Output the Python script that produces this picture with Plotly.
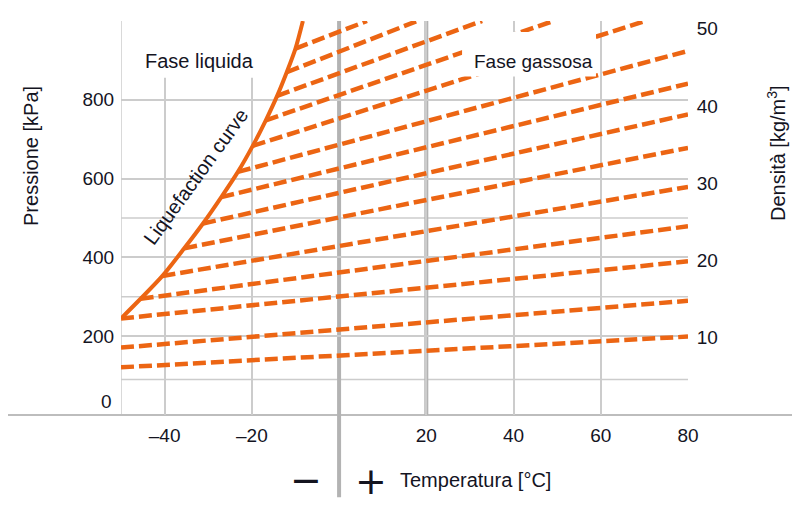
import plotly.graph_objects as go

# ---- data ----
curve_T = [-50, -45.5, -40.5, -35.5, -31.2, -27.0, -23.2, -19.8, -16.8, -14.2, -12.0, -10.0, -8.3]
curve_P = [245, 295, 353, 423, 486, 553, 617, 683, 748, 810, 870, 930, 1000]

iso_start_T = [-50, -50, -50, -45.5, -40.5, -35.5, -31.2, -27.0, -23.2, -19.8, -16.8, -14.2, -12.0, -10.0]
iso_start_P = [121, 171, 245, 295, 353, 423, 486, 553, 617, 683, 748, 810, 870, 930]
iso_end_T = [80, 80, 80, 80, 80, 80, 80, 80, 80, 70.2, 49.1, 32.8, 17.9, 6.4]
iso_end_P = [199, 290, 390, 479, 579, 678, 763, 841, 924, 1000, 1000, 1000, 1000, 1000]

x_tickvals = [-40, -20, 20, 40, 60, 80]
x_ticktext = ["–40", "–20", "20", "40", "60", "80"]
x_extra_grid = [-50]
y_tickvals = [200, 400, 600, 800]
y_ticktext = ["200", "400", "600", "800"]
y_extra_grid = [90, 300, 500]
y2_tickvals = [10, 20, 30, 40, 50]
y2_ticktext = ["10", "20", "30", "40", "50"]

ORANGE = "#EC6513"
TXT = "#14141f"
GRID = "#cccccc"
FONT = "Liberation Sans, Arial, sans-serif"

# page has an 8px body margin: figure is drawn at (8, 8)
OFF = 8
W, H = 792, 497
L, T = 121 - OFF, 18 - OFF
PW, PH = 567, 397
R = W - L - PW
B = H - T - PH


def px2paper_x(px):
    return (px - OFF - L) / PW


def px2paper_y(py):
    return (OFF + T + PH - py) / PH


fig = go.Figure()

for i in range(len(iso_start_T)):
    fig.add_trace(go.Scatter(
        x=[iso_start_T[i], iso_end_T[i]], y=[iso_start_P[i], iso_end_P[i]],
        mode="lines", line=dict(color=ORANGE, width=4.5, dash="13px,5px"),
        showlegend=False, hoverinfo="skip"))

fig.add_trace(go.Scatter(
    x=curve_T, y=curve_P, mode="lines",
    line=dict(color=ORANGE, width=4, shape="spline", smoothing=0.8),
    showlegend=False, hoverinfo="skip"))

# invisible trace for right axis
fig.add_trace(go.Scatter(x=[0], y=[0], yaxis="y2", mode="markers",
                         marker=dict(opacity=0), showlegend=False, hoverinfo="skip"))

shapes = []
for xv in x_extra_grid:
    shapes.append(dict(type="line", xref="x", yref="paper", x0=xv, x1=xv, y0=0, y1=1,
                       line=dict(color=GRID, width=1.5), layer="below"))
for yv in y_extra_grid:
    shapes.append(dict(type="line", xref="paper", yref="y", x0=0, x1=1, y0=yv, y1=yv,
                       line=dict(color=GRID, width=1.5), layer="below"))
shapes += [
    dict(type="line", xref="paper", yref="paper", x0=px2paper_x(8), x1=px2paper_x(806),
         y0=0, y1=0, line=dict(color="#bdbdbd", width=2), layer="below"),
    dict(type="line", xref="x", yref="paper", x0=0, x1=0, y0=px2paper_y(498), y1=1,
         line=dict(color="#b3b3b3", width=4), layer="below"),
    dict(type="line", xref="x", yref="paper", x0=20, x1=20, y0=0, y1=1,
         line=dict(color="#b3b3b3", width=4), layer="below"),
    dict(type="rect", xref="x", yref="y", x0=-48.4, x1=-17.7, y0=856, y1=1000,
         fillcolor="white", line=dict(width=0), layer="above"),
    dict(type="rect", xref="x", yref="y", x0=28.2, x1=58.9, y0=859, y1=972,
         fillcolor="white", line=dict(width=0), layer="above"),
]


def paper_text(text, px, py, size, angle=0, family=FONT, xanchor="center"):
    return dict(text=text, x=px2paper_x(px), y=px2paper_y(py), xref="paper", yref="paper",
                xanchor=xanchor, yanchor="middle", textangle=angle, showarrow=False,
                font=dict(size=size, color=TXT, family=family))


ann = [
    dict(text="Fase liquida", x=-31.9, y=898, xref="x", yref="y", showarrow=False,
         xanchor="center", yanchor="middle", font=dict(size=20, color=TXT, family=FONT)),
    dict(text="Fase gassosa", x=44.5, y=898, xref="x", yref="y", showarrow=False,
         xanchor="center", yanchor="middle", font=dict(size=19, color=TXT, family=FONT)),
    dict(text="Liquefaction curve", x=-32.9, y=604, xref="x", yref="y", showarrow=False,
         xanchor="center", yanchor="middle", textangle=-54,
         font=dict(size=20, color=TXT, family=FONT)),
    paper_text("0", 106, 401, 19),
    paper_text("Pressione [kPa]", 31, 154, 20, angle=-90),
    paper_text("Densità [kg/m<sup>3</sup>]", 777, 151, 20, angle=-90),
    paper_text("Temperatura [°C]", 398, 480, 20, xanchor="left"),
    paper_text("−", 306, 480, 38, family="DejaVu Sans"),
    paper_text("+", 371, 481, 38, family="DejaVu Sans"),
]

tick_font = dict(size=19, color=TXT, family=FONT)
fig.update_layout(
    width=W, height=H, margin=dict(l=L, r=R, t=T, b=B, pad=0),
    paper_bgcolor="white", plot_bgcolor="white",
    font=dict(family=FONT, color=TXT, size=19),
    xaxis=dict(range=[-50, 80], tickmode="array", tickvals=x_tickvals, ticktext=x_ticktext,
               showgrid=True, gridcolor=GRID, gridwidth=1.5, zeroline=False,
               showline=False, ticks="outside", ticklen=3, tickcolor="rgba(0,0,0,0)",
               tickfont=tick_font),
    yaxis=dict(range=[0, 1000], tickmode="array", tickvals=y_tickvals, ticktext=y_ticktext,
               showgrid=True, gridcolor=GRID, gridwidth=1.5, zeroline=False,
               showline=False, ticks="outside", ticklen=2, tickcolor="rgba(0,0,0,0)",
               tickfont=tick_font),
    yaxis2=dict(range=[0, 51.0], overlaying="y", side="right", tickmode="array",
                tickvals=y2_tickvals, ticktext=y2_ticktext, showgrid=False, zeroline=False,
                showline=False, ticks="outside", ticklen=4, tickcolor="rgba(0,0,0,0)",
                tickfont=tick_font),
    shapes=shapes, annotations=ann,
)

fig.write_html("out.html")
